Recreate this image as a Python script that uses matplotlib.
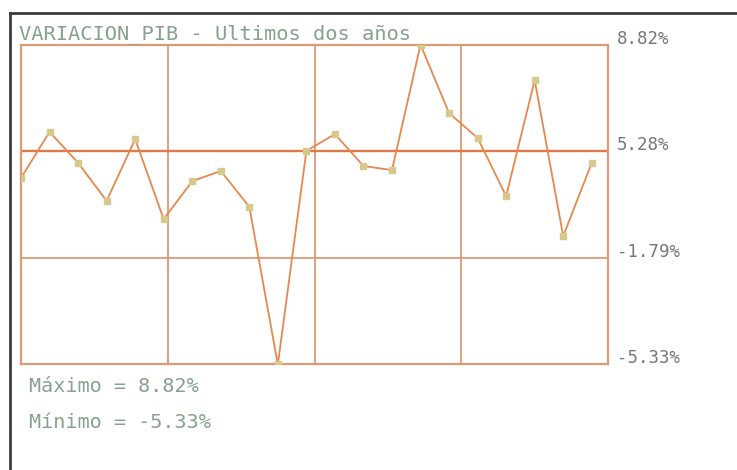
import matplotlib
matplotlib.use('Agg')
import matplotlib.pyplot as plt
import numpy as np
from matplotlib.lines import Line2D

# Data (monthly GDP variation, %)
values = [2.92, 4.96, 3.59, 1.91, 4.64, 1.10, 2.78, 3.23, 1.65, -5.33,
          4.12, 4.86, 3.45, 3.27, 8.82, 5.79, 4.69, 2.12, 7.25, 0.35, 3.59]
ytick_labels = ['-5.33%', '-1.79%', '5.28%', '8.82%']
title = 'VARIACION_PIB - Ultimos dos años'
max_text = 'Máximo = 8.82%'
min_text = 'Mínimo = -5.33%'

line_col = '#e8874e'
grid_col = '#dd9a74'
mark_col = '#d6c98e'
text_col = '#87a28c'
label_col = '#737a76'

if __name__ == '__main__':
    fig = plt.figure(figsize=(7.37, 4.70), dpi=100)
    ax = fig.add_axes([0.0285, 0.2245, 0.7965, 0.6805])

    x = np.arange(len(values))
    ymin, ymax = min(values), max(values)
    ax.set_xlim(0, len(values) - 0.43)
    ax.set_ylim(ymin, ymax)

    # grid: 4 columns, 3 rows
    for gx in np.linspace(0, len(values) - 0.43, 5)[1:-1]:
        ax.axvline(gx, color=grid_col, lw=1.3, zorder=1)
    hy = np.linspace(ymin, ymax, 4)
    ax.axhline(hy[1], color=grid_col, lw=1.3, zorder=1)
    ax.axhline(hy[2], color='#dc7a48', lw=1.7, zorder=1)

    ax.plot(x, values, color=line_col, lw=1.3, zorder=2)
    ax.plot(x, values, ls='none', marker='s', ms=5, mfc=mark_col,
            mec=mark_col, zorder=3)

    for s in ax.spines.values():
        s.set_color(grid_col)
        s.set_linewidth(1.6)
    ax.set_xticks([])
    ax.set_yticks([])

    for v, lab in zip(hy, ytick_labels):
        ax.annotate(lab, xy=(1, v), xycoords=('axes fraction', 'data'),
                    xytext=(9, 6), textcoords='offset pixels',
                    va='center', ha='left', color=label_col,
                    family='DejaVu Sans Mono', fontsize=12.5,
                    annotation_clip=False)

    fig.text(0.026, 0.916, title, color=text_col, family='DejaVu Sans Mono',
             fontsize=14.7, va='baseline', ha='left')
    fig.text(0.040, 0.177, max_text, color=text_col, family='DejaVu Sans Mono',
             fontsize=14.5, va='center', ha='left')
    fig.text(0.040, 0.102, min_text, color=text_col, family='DejaVu Sans Mono',
             fontsize=14.5, va='center', ha='left')

    # outer window frame (partly cut off by the scan)
    fig.add_artist(Line2D([0.0136, 0.0136], [0.0, 0.972], color='#3c3c3c',
                          lw=2, transform=fig.transFigure))
    fig.add_artist(Line2D([0.0136, 1.0], [0.972, 0.972], color='#3c3c3c',
                          lw=2, transform=fig.transFigure))

    fig.savefig('out.png', dpi=100)
